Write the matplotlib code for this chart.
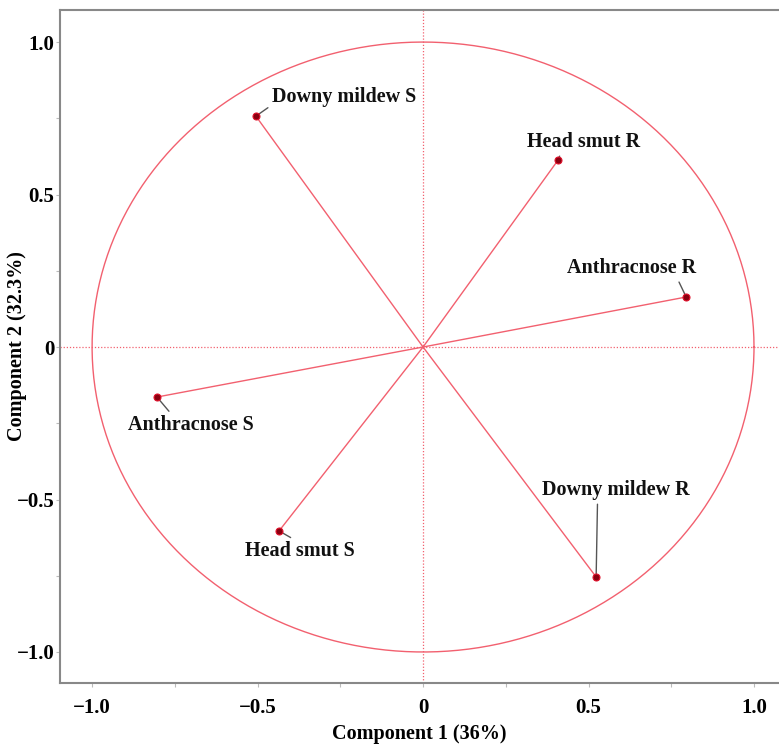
import numpy as np
import matplotlib.pyplot as plt
from matplotlib.ticker import MultipleLocator

# loadings
labels = ["Downy mildew S", "Head smut R", "Anthracnose R",
          "Anthracnose S", "Head smut S", "Downy mildew R"]
comp1 = [-0.505, 0.408, 0.795, -0.804, -0.435, 0.523]
comp2 = [0.757, 0.613, 0.164, -0.164, -0.603, -0.754]

# where the labels sit
text_x = [-0.239, 0.486, 0.631, -0.701, -0.372, 0.583]
text_y = [0.820, 0.672, 0.259, -0.256, -0.669, -0.469]
rel_pos = [(0.0, 0.1), (0.3, 0.0), (0.85, 0.0), (0.35, 1.0), (0.47, 1.0), (0.375, 0.0)]

red = "#f2606f"
serif = ["Liberation Serif", "DejaVu Serif"]

fig = plt.figure(figsize=(7.79, 7.49), dpi=100)
ax = fig.add_axes([0.077, 0.088, 0.923, 0.8986])

# unit circle
t = np.linspace(0, 2 * np.pi, 400)
ax.plot(np.cos(t), np.sin(t), color=red, lw=1)

ax.axhline(0, color=red, lw=0.9, ls=(0, (1, 1.5)))
ax.axvline(0, color=red, lw=0.9, ls=(0, (1, 1.5)))

for x, y in zip(comp1, comp2):
    ax.plot([0, x], [0, y], color=red, lw=1)
ax.plot(comp1, comp2, "o", ms=5, mfc="#8b0010", mec="#e0102a", mew=0.8, zorder=5)

for lab, x, y, tx, ty, rp in zip(labels, comp1, comp2, text_x, text_y, rel_pos):
    ax.annotate(lab, xy=(x, y), xytext=(tx, ty), ha="center", va="center",
                fontsize=14.5, fontweight="bold", family=serif, color="#111111",
                arrowprops=dict(arrowstyle="-", color="#555555", lw=1,
                                shrinkA=1, shrinkB=2, relpos=rp))

ax.set_xlim(-1.097, 1.0755)
ax.set_ylim(-1.102, 1.105)

ax.xaxis.set_minor_locator(MultipleLocator(0.25))
ax.yaxis.set_minor_locator(MultipleLocator(0.25))
ax.tick_params(which="both", direction="out", color="#bbbbbb", length=3, width=0.8)

ticks = [-1.0, -0.5, 0, 0.5, 1.0]

def fmt(v):
    if abs(v) < 1e-9:
        return "0"
    return ("\u2212%.1f" % abs(v)) if v < 0 else "%.1f" % v

ax.set_xticks(ticks)
ax.set_xticklabels([fmt(v) for v in ticks])
ax.set_yticks(ticks)
ax.set_yticklabels([fmt(v) for v in ticks])
for lbl in ax.get_xticklabels() + ax.get_yticklabels():
    lbl.set_family(serif)
    lbl.set_fontweight("bold")
    lbl.set_fontsize(15)
ax.tick_params(axis="x", pad=8)
ax.tick_params(axis="y", pad=1)

ax.set_xlabel("Component 1 (36%)", family=serif, fontweight="bold", fontsize=14.5)
ax.set_ylabel("Component 2 (32.3%)", family=serif, fontweight="bold", fontsize=14.5)
ax.xaxis.set_label_coords(0.5, -0.061)
ax.yaxis.set_label_coords(-0.046, 0.5)

for side in ["left", "bottom", "top"]:
    ax.spines[side].set_color("#888888")
    ax.spines[side].set_linewidth(1.5)
ax.spines["right"].set_visible(False)

fig.savefig("out.png", dpi=100)
